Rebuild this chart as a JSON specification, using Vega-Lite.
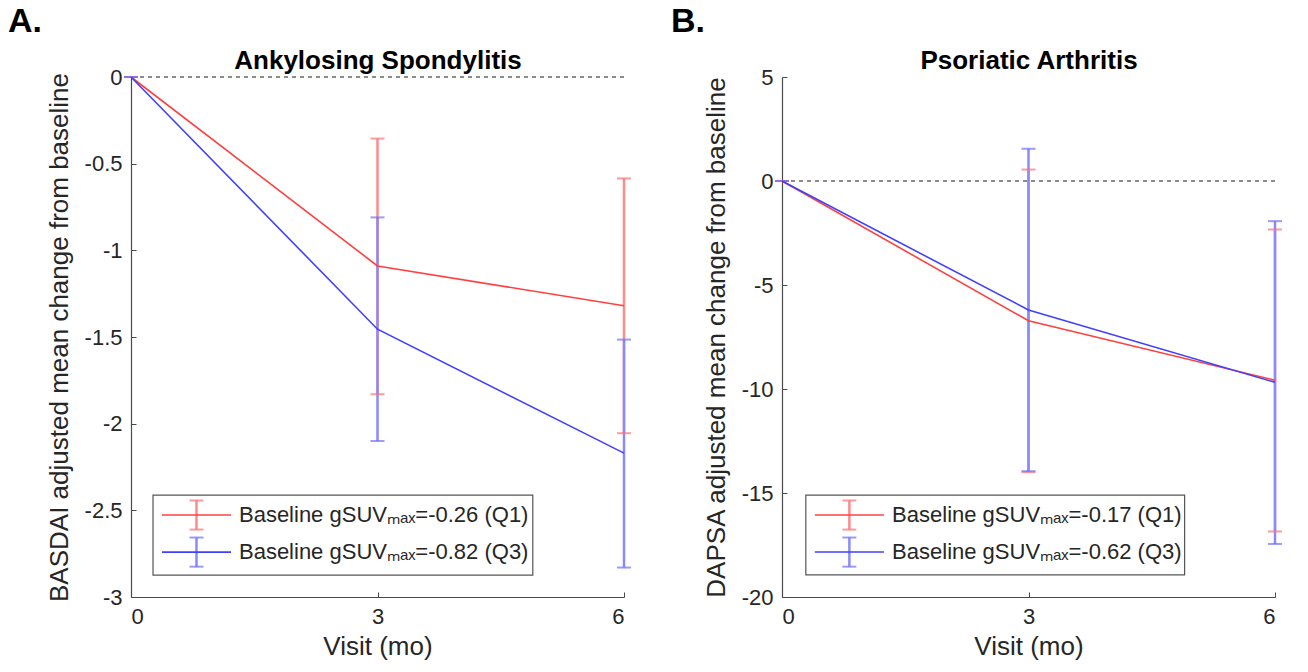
{
  "$schema": "https://vega.github.io/schema/vega-lite/v6.json",
  "background": "white",
  "padding": {"left": 8, "top": 5, "right": 5, "bottom": 2},
  "spacing": 40,
  "config": {
    "font": "Liberation Sans",
    "view": {"stroke": null},
    "axis": {
      "labelFontSize": 22, "titleFontSize": 26, "titleFontWeight": "normal",
      "labelColor": "#262626", "titleColor": "#262626",
      "domainColor": "#4a4a4a", "domainWidth": 1.2, "tickColor": "#4a4a4a",
      "tickSize": -5, "labelPadding": 14, "grid": false
    }
  },
  "data": {"values": [
    {"panel":"A","group":"Q1","visit":0,"mean":0,"lo":0,"hi":0},
    {"panel":"A","group":"Q1","visit":3,"mean":-1.09,"lo":-1.83,"hi":-0.355},
    {"panel":"A","group":"Q1","visit":6,"mean":-1.32,"lo":-2.055,"hi":-0.585},
    {"panel":"A","group":"Q3","visit":0,"mean":0,"lo":0,"hi":0},
    {"panel":"A","group":"Q3","visit":3,"mean":-1.455,"lo":-2.1,"hi":-0.81},
    {"panel":"A","group":"Q3","visit":6,"mean":-2.17,"lo":-2.83,"hi":-1.515},
    {"panel":"B","group":"Q1","visit":0,"mean":0,"lo":0,"hi":0},
    {"panel":"B","group":"Q1","visit":3,"mean":-6.72,"lo":-14.0,"hi":0.55},
    {"panel":"B","group":"Q1","visit":6,"mean":-9.58,"lo":-16.85,"hi":-2.33},
    {"panel":"B","group":"Q3","visit":0,"mean":0,"lo":0,"hi":0},
    {"panel":"B","group":"Q3","visit":3,"mean":-6.2,"lo":-13.95,"hi":1.55},
    {"panel":"B","group":"Q3","visit":6,"mean":-9.68,"lo":-17.45,"hi":-1.93}
  ]},
  "resolve": {"scale": {"x": "independent", "y": "independent", "color": "independent", "stroke": "independent", "fill": "independent"}},
  "hconcat": [
    {
      "width": 493, "height": 520,
      "title": {"text": "A.", "anchor": "start", "frame": "group", "dx": -123, "fontSize": 34, "fontWeight": "bold", "color": "black", "offset": 8},
      "transform": [{"filter": "datum.panel === 'A'"}],
      "resolve": {"axis": {"x": "independent"}},
      "layer": [
        {
          "transform": [{"filter": "datum.visit === 0 && datum.group === 'Q1'"}],
          "mark": {"type": "rule", "color": "#666666", "strokeDash": [4, 4], "strokeWidth": 1.3},
          "encoding": {"y": {"datum": 0, "type": "quantitative", "scale": {"domain": [-3, 0], "nice": false}}}
        },
        {
          "mark": {"type": "rule", "strokeWidth": 2.5},
          "encoding": {
            "x": {"field": "visit", "type": "quantitative", "axis": null, "scale": {"domain": [0, 6], "nice": false}},
            "y": {"field": "lo", "type": "quantitative"},
            "y2": {"field": "hi"},
            "stroke": {"field": "group", "type": "nominal", "legend": null, "scale": {"domain": ["Q1", "Q3"], "range": ["#ff8a8a", "#8a8aff"]}}
          }
        },
        {
          "mark": {"type": "tick", "orient": "horizontal", "size": 14, "thickness": 2},
          "encoding": {
            "x": {"field": "visit", "type": "quantitative", "axis": null},
            "y": {"field": "lo", "type": "quantitative"},
            "fill": {"field": "group", "type": "nominal", "legend": null, "scale": {"domain": ["Q1", "Q3"], "range": ["#ff7070", "#7070ff"]}}
          }
        },
        {
          "mark": {"type": "tick", "orient": "horizontal", "size": 14, "thickness": 2},
          "encoding": {
            "x": {"field": "visit", "type": "quantitative", "axis": null},
            "y": {"field": "hi", "type": "quantitative"},
            "fill": {"field": "group", "type": "nominal", "legend": null}
          }
        },
        {
          "mark": {"type": "line", "strokeWidth": 1.6},
          "encoding": {
            "x": {"field": "visit", "type": "quantitative", "title": "Visit (mo)", "axis": {"values": [0, 3, 6], "labelExpr": "'' + datum.value", "titlePadding": 6}},
            "y": {"field": "mean", "type": "quantitative", "title": "BASDAI adjusted mean change from baseline",
                  "axis": {"values": [0, -0.5, -1, -1.5, -2, -2.5, -3], "labelExpr": "'' + datum.value", "titlePadding": 12}},
            "color": {"field": "group", "type": "nominal", "legend": null,
              "scale": {"domain": ["Q1", "Q3"], "range": ["#ff4040", "#4040ff"]}}
          }
        },
        {
          "transform": [{"filter": "datum.group === 'Q1'"}],
          "mark": {"type": "point", "opacity": 0},
          "encoding": {
            "x": {"field": "visit", "type": "quantitative",
                  "axis": {"orient": "top", "title": "Ankylosing Spondylitis", "labels": false, "ticks": false, "domain": false,
                           "titleFontSize": 26, "titleFontWeight": "bold", "titleColor": "black", "titlePadding": 4}},
            "y": {"field": "mean", "type": "quantitative"}
          }
        },
        {
          "transform": [{"filter": "datum.visit === 0 && datum.group === 'Q1'"}],
          "layer": [
            {"mark": {"type": "rect", "fill": "white", "stroke": "#555555", "strokeWidth": 1.2},
             "encoding": {"x": {"datum": 0.268, "type": "quantitative", "axis": null}, "x2": {"datum": 4.89},
                          "y": {"datum": -2.412, "type": "quantitative"}, "y2": {"datum": -2.874}}},
            {"mark": {"type": "rule", "color": "#ff8a8a", "strokeWidth": 2.5},
             "encoding": {"x": {"datum": 0.797, "type": "quantitative", "axis": null},
                          "y": {"datum": -2.443, "type": "quantitative"}, "y2": {"datum": -2.611}}},
            {"mark": {"type": "tick", "orient": "horizontal", "size": 14, "thickness": 2, "color": "#ff7070"},
             "encoding": {"x": {"datum": 0.797, "type": "quantitative", "axis": null}, "y": {"datum": -2.443, "type": "quantitative"}}},
            {"mark": {"type": "tick", "orient": "horizontal", "size": 14, "thickness": 2, "color": "#ff7070"},
             "encoding": {"x": {"datum": 0.797, "type": "quantitative", "axis": null}, "y": {"datum": -2.611, "type": "quantitative"}}},
            {"mark": {"type": "rule", "color": "#ff4040", "strokeWidth": 1.6},
             "encoding": {"x": {"datum": 0.377, "type": "quantitative", "axis": null}, "x2": {"datum": 1.217},
                          "y": {"datum": -2.527, "type": "quantitative"}}},
            {"mark": {"type": "text", "align": "left", "baseline": "middle", "fontSize": 22, "color": "#262626"},
             "encoding": {"x": {"datum": 1.314, "type": "quantitative", "axis": null}, "y": {"datum": -2.527, "type": "quantitative"},
                          "text": {"value": "Baseline gSUVₘₐₓ=-0.26 (Q1)"}}},
            {"mark": {"type": "rule", "color": "#8a8aff", "strokeWidth": 2.5},
             "encoding": {"x": {"datum": 0.797, "type": "quantitative", "axis": null},
                          "y": {"datum": -2.657, "type": "quantitative"}, "y2": {"datum": -2.825}}},
            {"mark": {"type": "tick", "orient": "horizontal", "size": 14, "thickness": 2, "color": "#7070ff"},
             "encoding": {"x": {"datum": 0.797, "type": "quantitative", "axis": null}, "y": {"datum": -2.657, "type": "quantitative"}}},
            {"mark": {"type": "tick", "orient": "horizontal", "size": 14, "thickness": 2, "color": "#7070ff"},
             "encoding": {"x": {"datum": 0.797, "type": "quantitative", "axis": null}, "y": {"datum": -2.825, "type": "quantitative"}}},
            {"mark": {"type": "rule", "color": "#4040ff", "strokeWidth": 1.6},
             "encoding": {"x": {"datum": 0.377, "type": "quantitative", "axis": null}, "x2": {"datum": 1.217},
                          "y": {"datum": -2.741, "type": "quantitative"}}},
            {"mark": {"type": "text", "align": "left", "baseline": "middle", "fontSize": 22, "color": "#262626"},
             "encoding": {"x": {"datum": 1.314, "type": "quantitative", "axis": null}, "y": {"datum": -2.741, "type": "quantitative"},
                          "text": {"value": "Baseline gSUVₘₐₓ=-0.82 (Q3)"}}}
          ]
        }
      ]
    },
    {
      "width": 493, "height": 520,
      "title": {"text": "B.", "anchor": "start", "frame": "group", "dx": -111, "fontSize": 34, "fontWeight": "bold", "color": "black", "offset": 8},
      "transform": [{"filter": "datum.panel === 'B'"}],
      "resolve": {"axis": {"x": "independent"}},
      "layer": [
        {
          "transform": [{"filter": "datum.visit === 0 && datum.group === 'Q1'"}],
          "mark": {"type": "rule", "color": "#666666", "strokeDash": [4, 4], "strokeWidth": 1.3},
          "encoding": {"y": {"datum": 0, "type": "quantitative", "scale": {"domain": [-20, 5], "nice": false}}}
        },
        {
          "mark": {"type": "rule", "strokeWidth": 2.5},
          "encoding": {
            "x": {"field": "visit", "type": "quantitative", "axis": null, "scale": {"domain": [0, 6], "nice": false}},
            "y": {"field": "lo", "type": "quantitative"},
            "y2": {"field": "hi"},
            "stroke": {"field": "group", "type": "nominal", "legend": null, "scale": {"domain": ["Q1", "Q3"], "range": ["#ff8a8a", "#8a8aff"]}}
          }
        },
        {
          "mark": {"type": "tick", "orient": "horizontal", "size": 14, "thickness": 2},
          "encoding": {
            "x": {"field": "visit", "type": "quantitative", "axis": null},
            "y": {"field": "lo", "type": "quantitative"},
            "fill": {"field": "group", "type": "nominal", "legend": null, "scale": {"domain": ["Q1", "Q3"], "range": ["#ff7070", "#7070ff"]}}
          }
        },
        {
          "mark": {"type": "tick", "orient": "horizontal", "size": 14, "thickness": 2},
          "encoding": {
            "x": {"field": "visit", "type": "quantitative", "axis": null},
            "y": {"field": "hi", "type": "quantitative"},
            "fill": {"field": "group", "type": "nominal", "legend": null}
          }
        },
        {
          "mark": {"type": "line", "strokeWidth": 1.6},
          "encoding": {
            "x": {"field": "visit", "type": "quantitative", "title": "Visit (mo)", "axis": {"values": [0, 3, 6], "labelExpr": "'' + datum.value", "titlePadding": 6}},
            "y": {"field": "mean", "type": "quantitative", "title": "DAPSA adjusted mean change from baseline",
                  "axis": {"values": [5, 0, -5, -10, -15, -20], "labelExpr": "'' + datum.value", "titlePadding": 12}},
            "color": {"field": "group", "type": "nominal", "legend": null,
              "scale": {"domain": ["Q1", "Q3"], "range": ["#ff4040", "#4040ff"]}}
          }
        },
        {
          "transform": [{"filter": "datum.group === 'Q1'"}],
          "mark": {"type": "point", "opacity": 0},
          "encoding": {
            "x": {"field": "visit", "type": "quantitative",
                  "axis": {"orient": "top", "title": "Psoriatic Arthritis", "labels": false, "ticks": false, "domain": false,
                           "titleFontSize": 26, "titleFontWeight": "bold", "titleColor": "black", "titlePadding": 4}},
            "y": {"field": "mean", "type": "quantitative"}
          }
        },
        {
          "transform": [{"filter": "datum.visit === 0 && datum.group === 'Q1'"}],
          "layer": [
            {"mark": {"type": "rect", "fill": "white", "stroke": "#555555", "strokeWidth": 1.2},
             "encoding": {"x": {"datum": 0.29, "type": "quantitative", "axis": null}, "x2": {"datum": 4.9},
                          "y": {"datum": -15.1, "type": "quantitative"}, "y2": {"datum": -18.94}}},
            {"mark": {"type": "rule", "color": "#ff8a8a", "strokeWidth": 2.5},
             "encoding": {"x": {"datum": 0.82, "type": "quantitative", "axis": null},
                          "y": {"datum": -15.36, "type": "quantitative"}, "y2": {"datum": -16.76}}},
            {"mark": {"type": "tick", "orient": "horizontal", "size": 14, "thickness": 2, "color": "#ff7070"},
             "encoding": {"x": {"datum": 0.82, "type": "quantitative", "axis": null}, "y": {"datum": -15.36, "type": "quantitative"}}},
            {"mark": {"type": "tick", "orient": "horizontal", "size": 14, "thickness": 2, "color": "#ff7070"},
             "encoding": {"x": {"datum": 0.82, "type": "quantitative", "axis": null}, "y": {"datum": -16.76, "type": "quantitative"}}},
            {"mark": {"type": "rule", "color": "#ff4040", "strokeWidth": 1.6},
             "encoding": {"x": {"datum": 0.4, "type": "quantitative", "axis": null}, "x2": {"datum": 1.24},
                          "y": {"datum": -16.06, "type": "quantitative"}}},
            {"mark": {"type": "text", "align": "left", "baseline": "middle", "fontSize": 22, "color": "#262626"},
             "encoding": {"x": {"datum": 1.34, "type": "quantitative", "axis": null}, "y": {"datum": -16.06, "type": "quantitative"},
                          "text": {"value": "Baseline gSUVₘₐₓ=-0.17 (Q1)"}}},
            {"mark": {"type": "rule", "color": "#8a8aff", "strokeWidth": 2.5},
             "encoding": {"x": {"datum": 0.82, "type": "quantitative", "axis": null},
                          "y": {"datum": -17.14, "type": "quantitative"}, "y2": {"datum": -18.54}}},
            {"mark": {"type": "tick", "orient": "horizontal", "size": 14, "thickness": 2, "color": "#7070ff"},
             "encoding": {"x": {"datum": 0.82, "type": "quantitative", "axis": null}, "y": {"datum": -17.14, "type": "quantitative"}}},
            {"mark": {"type": "tick", "orient": "horizontal", "size": 14, "thickness": 2, "color": "#7070ff"},
             "encoding": {"x": {"datum": 0.82, "type": "quantitative", "axis": null}, "y": {"datum": -18.54, "type": "quantitative"}}},
            {"mark": {"type": "rule", "color": "#4040ff", "strokeWidth": 1.6},
             "encoding": {"x": {"datum": 0.4, "type": "quantitative", "axis": null}, "x2": {"datum": 1.24},
                          "y": {"datum": -17.84, "type": "quantitative"}}},
            {"mark": {"type": "text", "align": "left", "baseline": "middle", "fontSize": 22, "color": "#262626"},
             "encoding": {"x": {"datum": 1.34, "type": "quantitative", "axis": null}, "y": {"datum": -17.84, "type": "quantitative"},
                          "text": {"value": "Baseline gSUVₘₐₓ=-0.62 (Q3)"}}}
          ]
        }
      ]
    }
  ]
}
